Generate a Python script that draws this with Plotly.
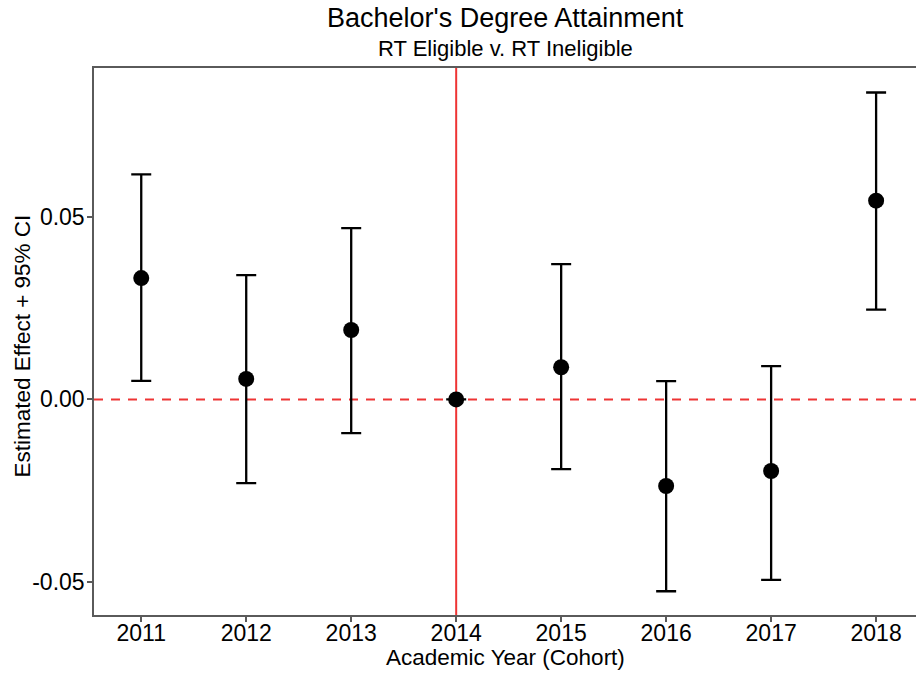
import plotly.graph_objects as go

# Cohort event-study estimates with 95% confidence bounds
years = [2011, 2012, 2013, 2014, 2015, 2016, 2017, 2018]
estimate = [0.0332, 0.0056, 0.0190, 0.0, 0.0088, -0.0237, -0.0196, 0.0544]
ci_upper = [0.0616, 0.0340, 0.0469, 0.0, 0.0370, 0.0050, 0.0091, 0.0840]
ci_lower = [0.0051, -0.0229, -0.0092, 0.0, -0.0191, -0.0525, -0.0494, 0.0246]
y_ticks = [-0.05, 0.0, 0.05]
y_tick_text = ["-0.05", "0.00", "0.05"]
reference_year = 2014

err_plus = [u - e for u, e in zip(ci_upper, estimate)]
err_minus = [e - l for e, l in zip(estimate, ci_lower)]

FONT = "Liberation Sans, Arial, sans-serif"
RED = "#EE3434"
AXIS = "#5a5a5a"

fig = go.Figure()
fig.add_trace(go.Scatter(
    x=years, y=estimate, mode="markers",
    marker=dict(color="black", size=16),
    error_y=dict(type="data", symmetric=False, array=err_plus, arrayminus=err_minus,
                 color="black", thickness=2.3, width=10),
    showlegend=False,
))

# reference lines: zero effect and the policy year
fig.add_shape(type="line", xref="paper", x0=0, x1=1, yref="y", y0=0, y1=0,
              line=dict(color=RED, width=2, dash="9px,8px"), layer="below")
fig.add_shape(type="line", xref="x", x0=reference_year, x1=reference_year,
              yref="paper", y0=0, y1=1, line=dict(color=RED, width=2), layer="below")

fig.update_layout(
    width=916, height=673,
    margin=dict(l=94, r=0, t=68, b=58),
    paper_bgcolor="white", plot_bgcolor="white",
    font=dict(family=FONT, color="black"),
    xaxis=dict(range=[2010.55, 2018.38], tickvals=years, ticktext=[str(y) for y in years],
               showgrid=False, zeroline=False, showline=True, linecolor=AXIS, linewidth=1.5,
               mirror=True, ticks="outside", ticklen=5, tickcolor=AXIS, tickwidth=1.5,
               ticklabelstandoff=-8,
               tickfont=dict(size=23, color="black")),
    yaxis=dict(range=[-0.059, 0.0907], tickvals=y_ticks, ticktext=y_tick_text,
               showgrid=False, zeroline=False, showline=True, linecolor=AXIS, linewidth=1.5,
               ticks="outside", ticklen=5, tickcolor=AXIS, tickwidth=1.5,
               ticklabelstandoff=-2,
               tickfont=dict(size=23, color="black")),
    annotations=[
        dict(text="Bachelor's Degree Attainment", xref="paper", yref="paper",
             x=0.5, y=1, yshift=50, showarrow=False, font=dict(size=27),
             xanchor="center", yanchor="middle"),
        dict(text="RT Eligible v. RT Ineligible", xref="paper", yref="paper",
             x=0.5, y=1, yshift=20, showarrow=False, font=dict(size=22),
             xanchor="center", yanchor="middle"),
        dict(text="Academic Year (Cohort)", xref="paper", yref="paper",
             x=0.5, y=0, yshift=-42, showarrow=False, font=dict(size=22.5),
             xanchor="center", yanchor="middle"),
        dict(text="Estimated Effect + 95% CI", xref="paper", yref="paper",
             x=0, y=0.5, xshift=-72, yshift=-5, showarrow=False, font=dict(size=22.5),
             textangle=-90, xanchor="center", yanchor="middle"),
    ],
)

fig.write_html("out.html")
